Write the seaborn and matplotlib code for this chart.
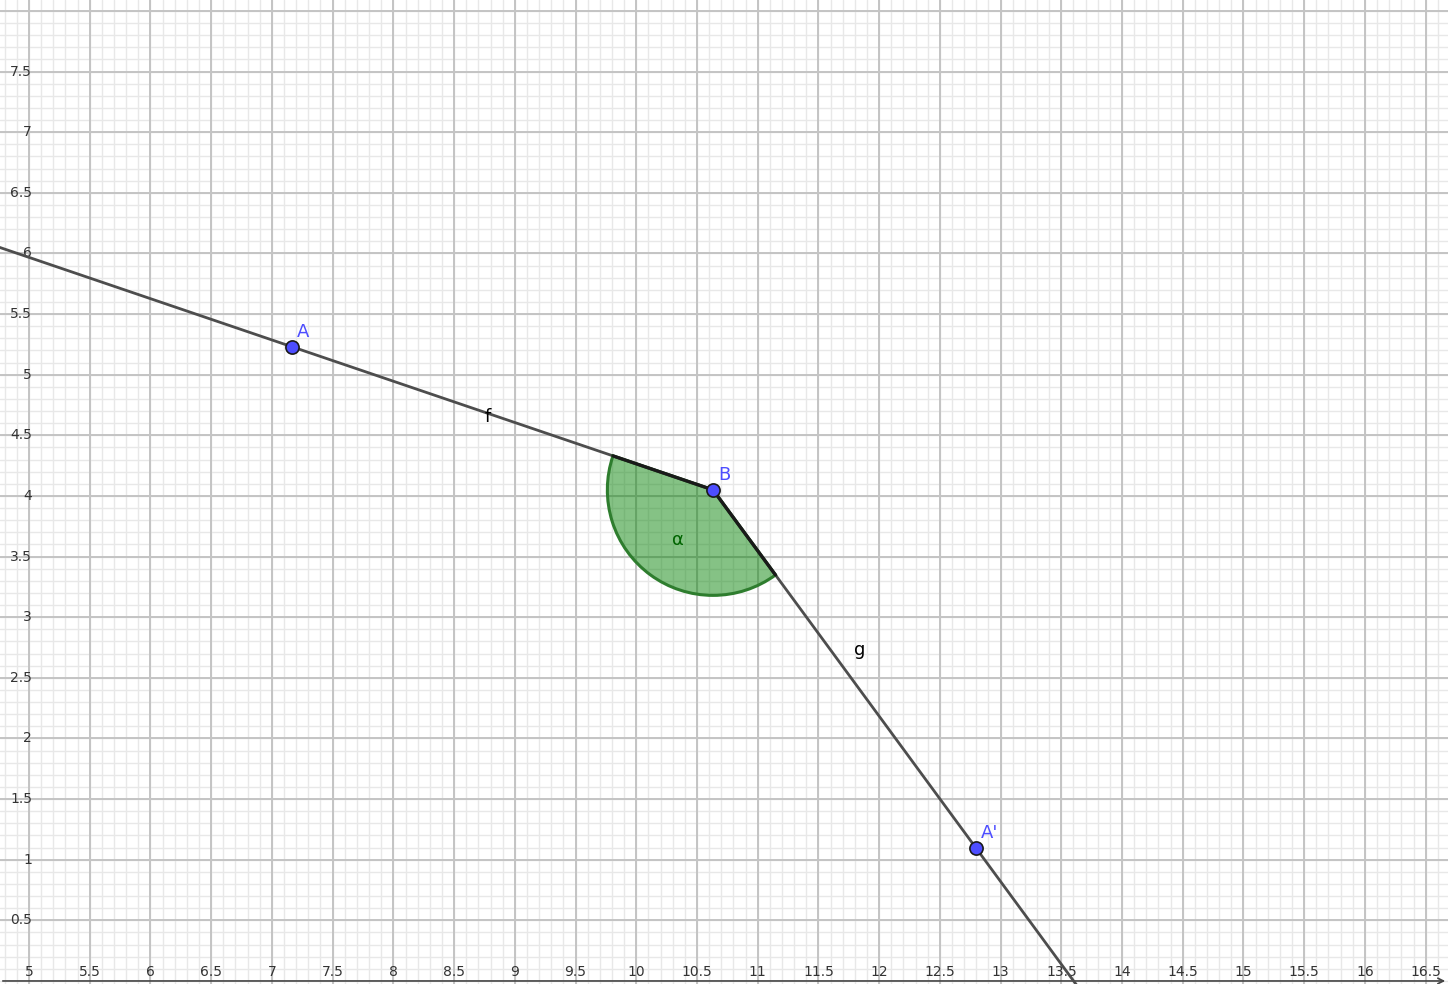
import numpy as np
import matplotlib
matplotlib.use("Agg")
import matplotlib.pyplot as plt
from matplotlib.patches import Wedge
import seaborn as sns
import pandas as pd

# points
pt_names = ["A", "B", "A'"]
pt_x = [7.166, 10.632, 12.797]
pt_y = [5.23, 4.05, 1.097]

# line labels
line_names = ["f", "g"]
line_lx = [8.78, 11.84]
line_ly = [4.65, 2.73]

angle_name = "α"
angle_radius = 0.87

x_ticks = [5, 5.5, 6, 6.5, 7, 7.5, 8, 8.5, 9, 9.5, 10, 10.5, 11, 11.5, 12,
           12.5, 13, 13.5, 14, 14.5, 15, 15.5, 16, 16.5]
y_ticks = [0.5, 1, 1.5, 2, 2.5, 3, 3.5, 4, 4.5, 5, 5.5, 6, 6.5, 7, 7.5]

xmin, xmax = 4.761, 16.684
ymin, ymax = -0.025, 8.09

sns.set_style("white")
fig = plt.figure(figsize=(14.48, 9.84), dpi=100)
ax = fig.add_axes([0, 0, 1, 1])
ax.set_xlim(xmin, xmax)
ax.set_ylim(ymin, ymax)
for s in ax.spines.values():
    s.set_visible(False)
ax.set_xticks([])
ax.set_yticks([])

# grid
minor_x = np.arange(4.8, 16.7, 0.1)
minor_y = np.arange(0.0, 8.1, 0.1)
for v in minor_x:
    ax.axvline(v, color="#e8e8e8", lw=1, zorder=0)
for v in minor_y:
    ax.axhline(v, color="#e8e8e8", lw=1, zorder=0)
for v in x_ticks:
    ax.axvline(v, color="#c4c4c4", lw=1.4, zorder=1)
for v in y_ticks + [8.0]:
    ax.axhline(v, color="#c4c4c4", lw=1.4, zorder=1)

# x axis with arrow
ax.annotate("", xy=(xmax, 0), xytext=(xmin, 0),
            arrowprops=dict(arrowstyle="->", color="#444444", lw=1.2), zorder=2)

for v in x_ticks:
    ax.text(v, 0.02, f"{v:g}", ha="center", va="bottom", fontsize=10,
            color="#333333", zorder=3)
for v in y_ticks:
    ax.text(5.025, v, f"{v:g}", ha="right", va="center", fontsize=10,
            color="#333333", zorder=3)

A = np.array([pt_x[0], pt_y[0]])
B = np.array([pt_x[1], pt_y[1]])
A2 = np.array([pt_x[2], pt_y[2]])

# ray f: from B through A to the left edge
dA = A - B
tf = (xmin - 0.1 - B[0]) / dA[0]
# ray g: from B through A' to the bottom edge
dG = A2 - B
tg = (ymin - 0.1 - B[1]) / dG[1]
rays = pd.DataFrame({
    "x": [B[0], B[0] + tf * dA[0], B[0], B[0] + tg * dG[0]],
    "y": [B[1], B[1] + tf * dA[1], B[1], B[1] + tg * dG[1]],
    "line": ["f", "f", "g", "g"],
})
sns.lineplot(data=rays, x="x", y="y", units="line", estimator=None, sort=False,
             color="#4d4d4d", lw=2.0, ax=ax, zorder=4, legend=False)

# angle sector
a1 = np.degrees(np.arctan2(dA[1], dA[0]))
a2 = np.degrees(np.arctan2(dG[1], dG[0]))
w = Wedge(B, angle_radius, a1, a2, facecolor=(0.0, 0.5, 0.0, 0.48),
          edgecolor="#2e7d2e", lw=2.2, zorder=5)
ax.add_patch(w)
for d in (dA, dG):
    u = d / np.linalg.norm(d)
    ax.plot([B[0], B[0] + angle_radius * u[0]], [B[1], B[1] + angle_radius * u[1]],
            color="#1a1a1a", lw=2.4, zorder=6)
ax.text(10.34, 3.64, angle_name, color="#006400", fontsize=13,
        ha="center", va="center", zorder=7)

for n, lx, ly in zip(line_names, line_lx, line_ly):
    ax.text(lx, ly, n, fontsize=13, color="black", ha="center", va="center", zorder=7)

pts = pd.DataFrame({"x": pt_x, "y": pt_y, "name": pt_names})
sns.scatterplot(data=pts, x="x", y="y", s=90, color="#4d4dff", edgecolor="#1a1a1a",
                linewidth=1.2, ax=ax, zorder=8, legend=False)
for n, x, y in zip(pt_names, pt_x, pt_y):
    ax.annotate(n, (x, y), xytext=(3.5, 4.5), textcoords="offset points",
                color="#4d4dff", fontsize=13, ha="left", va="bottom", zorder=9)

ax.set_xlim(xmin, xmax)
ax.set_ylim(ymin, ymax)
ax.set_xlabel("")
ax.set_ylabel("")
fig.savefig("out.png", dpi=100)
